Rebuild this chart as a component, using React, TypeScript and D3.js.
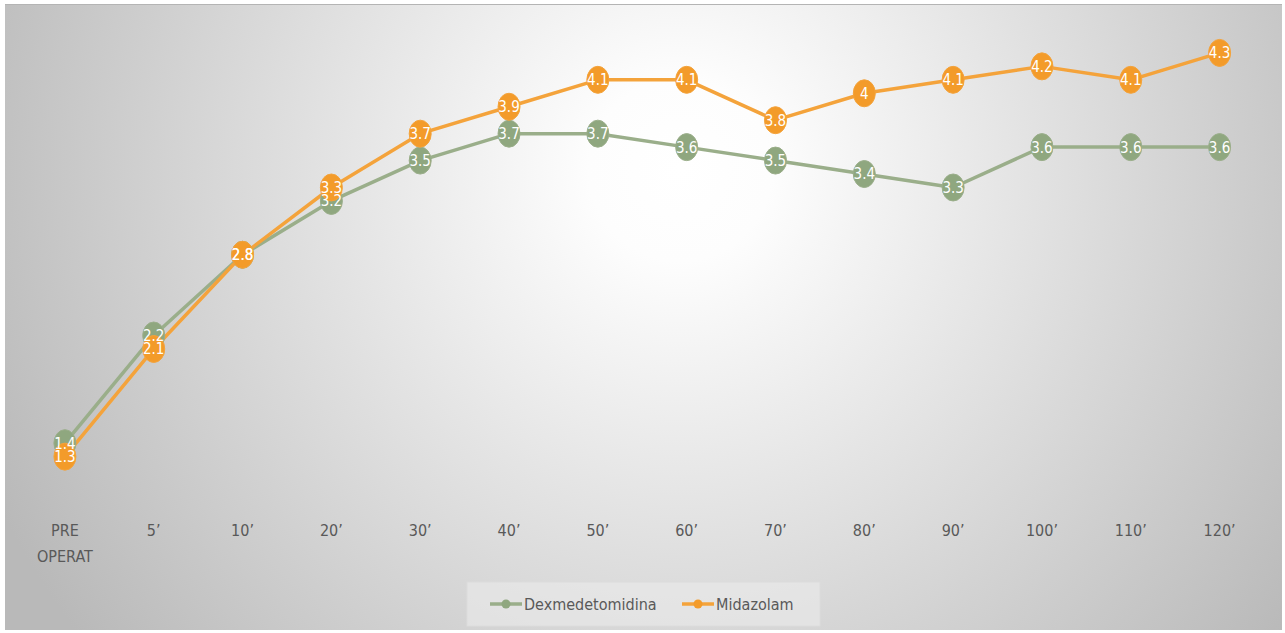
import React from "react";
import * as d3 from "d3";

// Time points of the observation
const categories = [
  "PRE OPERAT",
  "5’",
  "10’",
  "20’",
  "30’",
  "40’",
  "50’",
  "60’",
  "70’",
  "80’",
  "90’",
  "100’",
  "110’",
  "120’",
];

const dexmedetomidina = [1.4, 2.2, 2.8, 3.2, 3.5, 3.7, 3.7, 3.6, 3.5, 3.4, 3.3, 3.6, 3.6, 3.6];
const midazolam = [1.3, 2.1, 2.8, 3.3, 3.7, 3.9, 4.1, 4.1, 3.8, 4, 4.1, 4.2, 4.1, 4.3];

const seriesNames = ["Dexmedetomidina", "Midazolam"];

const W = 1285;
const H = 633;

const GREEN_LINE = "#9aae8a";
const GREEN_MARK = "#8fa77f";
const ORANGE_LINE = "#f4a33b";
const ORANGE_MARK = "#f39b2a";

const narrow = "'Liberation Sans Narrow', 'DejaVu Sans Condensed', 'Roboto', sans-serif";

export default function App() {
  const x = d3.scalePoint<string>().domain(categories).range([20.5, 1264]).padding(0.5);
  const y = d3.scaleLinear().domain([1, 4.5]).range([497, 26]);

  const series = [
    { name: seriesNames[0], values: dexmedetomidina, line: GREEN_LINE, mark: GREEN_MARK },
    { name: seriesNames[1], values: midazolam, line: ORANGE_LINE, mark: ORANGE_MARK },
  ];

  const lineGen = d3
    .line<number>()
    .x((_, i) => x(categories[i]) as number)
    .y((d) => y(d));

  const fmt = (v: number) => (Number.isInteger(v) ? String(v) : v.toFixed(1));

  return (
    <svg
      width={W}
      height={H}
      style={{ position: "absolute", left: 0, top: 0, display: "block" }}
    >
      <defs>
        <radialGradient id="bg" gradientUnits="userSpaceOnUse" cx={680} cy={170} r={760}>
          <stop offset="0" stopColor="#ffffff" />
          <stop offset="0.12" stopColor="#fdfdfd" />
          <stop offset="1" stopColor="#b9b9b9" />
        </radialGradient>
      </defs>
      <rect x={0} y={0} width={W} height={H} fill="#ffffff" />
      <rect x={5} y={4} width={1277} height={626} fill="url(#bg)" />
      <line x1={5} x2={1282} y1={4.5} y2={4.5} stroke="#b4b4b4" strokeWidth={1} />

      {/* series lines */}
      {series.map((s) => (
        <path
          key={s.name + "-line"}
          d={lineGen(s.values) || ""}
          fill="none"
          stroke={s.line}
          strokeWidth={3.5}
          strokeLinejoin="round"
        />
      ))}

      {/* markers */}
      {series.map((s) =>
        s.values.map((v, i) => (
          <ellipse
            key={s.name + "-m" + i}
            cx={x(categories[i]) as number}
            cy={y(v)}
            rx={11}
            ry={13.5}
            fill={s.mark}
            stroke={s.line}
            strokeWidth={1}
          />
        ))
      )}

      {/* data labels */}
      {series.map((s) =>
        s.values.map((v, i) => (
          <text
            key={s.name + "-l" + i}
            x={x(categories[i]) as number}
            y={y(v)}
            dy="0.36em"
            textAnchor="middle"
            fill="#ffffff"
            fontFamily={narrow}
            fontSize={15}
          >
            {fmt(v)}
          </text>
        ))
      )}

      {/* category axis labels */}
      {categories.map((c) => {
        const parts = c.split(" ");
        return (
          <text
            key={c}
            x={x(c) as number}
            y={536}
            textAnchor="middle"
            fill="#595959"
            fontFamily={narrow}
            fontSize={16}
          >
            {parts.map((p, j) => (
              <tspan key={j} x={x(c) as number} dy={j === 0 ? 0 : 26}>
                {p}
              </tspan>
            ))}
          </text>
        );
      })}

      {/* legend */}
      <rect x={467} y={582} width={353} height={44} fill="#ebebeb" fillOpacity={0.6} stroke="#dcdcdc" />
      {series.map((s, k) => {
        const lx = k === 0 ? 490 : 682;
        const tx = k === 0 ? 524 : 716;
        return (
          <g key={s.name + "-leg"}>
            <line x1={lx} x2={lx + 32} y1={604} y2={604} stroke={s.line} strokeWidth={3.5} />
            <circle cx={lx + 16} cy={604} r={4.5} fill={s.mark} />
            <text
              x={tx}
              y={604}
              dy="0.35em"
              fill="#595959"
              fontFamily={narrow}
              fontSize={16}
            >
              {s.name}
            </text>
          </g>
        );
      })}
    </svg>
  );
}
